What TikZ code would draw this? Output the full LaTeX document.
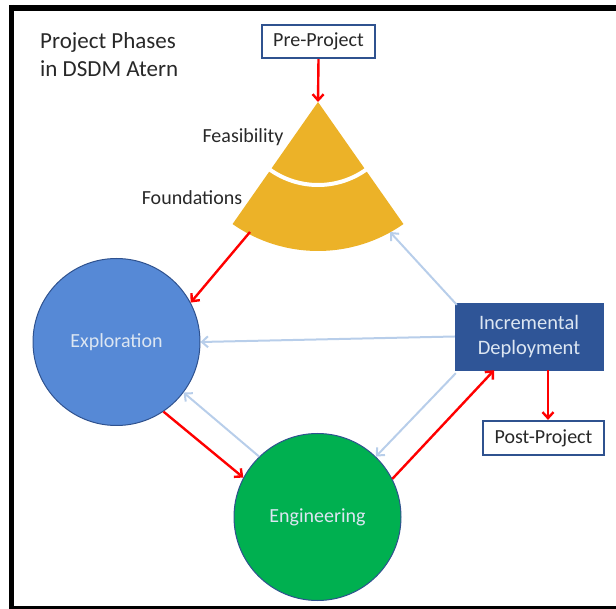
\documentclass[tikz,border=0pt]{standalone}
\usepackage{fontspec}
\setmainfont{Carlito}
\usetikzlibrary{arrows.meta,calc}
\definecolor{gold}{RGB}{236,178,40}
\definecolor{explblue}{RGB}{86,137,214}
\definecolor{darkblue}{RGB}{47,82,143}
\definecolor{idblue}{RGB}{47,85,151}
\definecolor{engreen}{RGB}{0,176,80}
\definecolor{lightarrow}{RGB}{184,206,234}
\definecolor{lighttext}{RGB}{220,230,242}
\definecolor{labelgray}{RGB}{40,40,40}
\tikzset{
  redarrow/.style={draw=red, line width=2.4pt, -{Straight Barb[length=6pt,width=11pt,line width=2.4pt]}},
  bluearrow/.style={draw=lightarrow, line width=2pt, -{Straight Barb[length=6pt,width=11pt,line width=2pt]}},
  phasebox/.style={draw=darkblue, line width=2.2pt, fill=white, text=labelgray, font=\fontsize{20}{24}\selectfont, inner sep=0pt},
  phasecircle/.style={circle, draw=darkblue, line width=1pt, minimum size=167pt, inner sep=0pt, text=lighttext, font=\fontsize{20}{24}\selectfont},
  plainlabel/.style={text=labelgray, font=\fontsize{20}{24}\selectfont, inner sep=0pt}
}
\begin{document}
\begin{tikzpicture}[x=1pt,y=-1pt]
\useasboundingbox (0,0) rectangle (616,609);
% frame
\draw[line width=4.7pt] (11.7,5) -- (11.7,609);
\draw[line width=6pt] (9,8) -- (616,8);
\draw[line width=3pt] (9,607.5) -- (616,607.5);
% title
\node[plainlabel, align=left, anchor=north west, font=\fontsize{23}{28}\selectfont] (title) at (40,32) {Project Phases\\in DSDM Atern};
% pre-project
\node[phasebox, minimum width=113pt, minimum height=33pt] (pre) at (318.5,41.5) {Pre-Project};
% sector
\coordinate (apex) at (318,102);
\fill[gold] (apex) -- ++(125:149) arc[start angle=125, end angle=55, radius=149] -- cycle;
\draw[white, line width=4pt] ($(apex)+(126:83)$) arc[start angle=126, end angle=54, radius=83];
\node[plainlabel] (feas) at (243,137) {Feasibility};
\node[plainlabel] (found) at (192,198) {Foundations};
\coordinate (secL) at (250,232);
\coordinate (secR) at (390,232);
% circles
\node[phasecircle, fill=explblue] (expl) at (116.5,342) {Exploration};
\node[phasecircle, fill=engreen] (eng) at (317.5,517) {Engineering};
% incremental deployment
\node[draw=idblue, fill=idblue, text=lighttext, minimum width=148pt, minimum height=67pt, align=center, inner sep=0pt, font=\fontsize{20.5}{25}\selectfont] (ID) at (529,336.5) {Incremental\\Deployment};
\node[phasebox, minimum width=121pt, minimum height=34pt] (post) at (543.5,438) {Post-Project};
% light blue arrows
\draw[bluearrow] ([xshift=2pt,yshift=-2pt]ID.north west) -- (secR);
\draw[bluearrow] (ID.west) -- (expl.east);
\draw[bluearrow] ([xshift=1pt,yshift=-3pt]ID.south west) -- (eng.46);
\draw[bluearrow] (eng.134) -- (expl.-37);
% red arrows
\draw[redarrow] (pre.south) -- (apex);
\draw[redarrow] (secL) -- (expl.28);
\draw[redarrow] (expl.-56) -- (eng.152);
\draw[redarrow] (eng.27) -- (ID.-136);
\draw[redarrow] ([xshift=19pt]ID.south) -- ([xshift=19pt]ID.south |- post.north);
\end{tikzpicture}
\end{document}
